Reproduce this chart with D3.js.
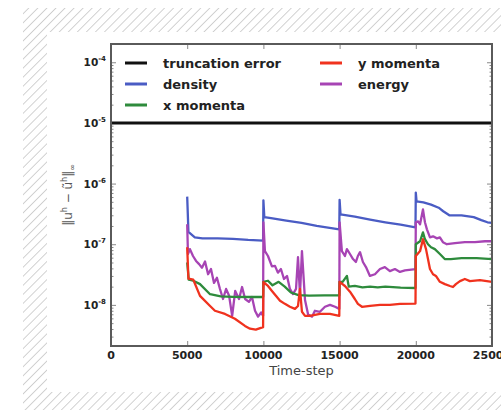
<!DOCTYPE html>
<html>
<head>
<meta charset="utf-8">
<script src="https://cdn.jsdelivr.net/npm/d3@7"></script>
<style>
  body { margin: 0; background: #fff; }
  svg { display: block; }
</style>
</head>
<body>
<svg width="501" height="410"></svg>
<script>
// values: [time-step, error]
const truncation = [[0, 1e-5], [25000, 1e-5]];

const density = [
  [5000, 6.1e-7], [5080, 1.6e-7], [5500, 1.3e-7], [6000, 1.25e-7], [7000, 1.25e-7], [8000, 1.23e-7], [9000, 1.18e-7], [9980, 1.15e-7],
  [10000, 5.3e-7], [10060, 2.8e-7], [10500, 2.7e-7], [11500, 2.45e-7], [12500, 2.25e-7], [13500, 2.0e-7], [14980, 1.76e-7],
  [15000, 5.4e-7], [15060, 3.1e-7], [16000, 2.85e-7], [17000, 2.55e-7], [18000, 2.3e-7], [19000, 2.1e-7], [19980, 1.9e-7],
  [20000, 7.1e-7], [20050, 5.1e-7], [20500, 4.9e-7], [21000, 4.5e-7], [21500, 4.0e-7], [21800, 3.5e-7], [22200, 3.0e-7],
  [23000, 3.0e-7], [23800, 2.8e-7], [24300, 2.5e-7], [24700, 2.3e-7], [25000, 2.25e-7]
];

const xMomenta = [
  [5000, 5e-8], [5100, 2.6e-8], [5400, 2.5e-8], [5840, 2.2e-8], [6500, 1.5e-8], [7200, 1.38e-8], [8000, 1.36e-8], [9000, 1.35e-8], [9980, 1.35e-8],
  [10000, 2.4e-8], [10300, 2.5e-8], [10600, 2.1e-8], [11000, 2.4e-8], [11400, 2.0e-8], [11800, 1.6e-8], [12300, 1.45e-8], [13000, 1.42e-8], [14000, 1.43e-8], [14980, 1.43e-8],
  [15000, 2.4e-8], [15200, 2.4e-8], [15480, 3.0e-8], [15600, 2.0e-8], [16000, 2.05e-8], [16500, 1.95e-8], [17000, 2.0e-8], [17500, 1.95e-8], [18000, 2.0e-8], [19000, 1.92e-8], [19980, 1.9e-8],
  [20000, 1.0e-7], [20280, 1.12e-7], [20470, 1.57e-7], [20600, 1.21e-7], [20800, 1.0e-7], [21000, 8.9e-8], [21250, 8.3e-8], [21580, 6.9e-8],
  [21900, 5.7e-8], [22300, 5.7e-8], [23000, 5.9e-8], [24000, 5.9e-8], [25000, 5.7e-8]
];

const yMomenta = [
  [5000, 8.9e-8], [5080, 2.7e-8], [5400, 2.6e-8], [5840, 1.41e-8], [6500, 9.6e-9], [6820, 8.0e-9], [7480, 7.1e-9], [8130, 5.9e-9],
  [8790, 4.5e-9], [9120, 4.05e-9], [9500, 3.9e-9], [9980, 4.3e-9],
  [10000, 2.38e-8], [10300, 2.05e-8], [10560, 1.7e-8], [10820, 1.41e-8], [11090, 1.17e-8], [11410, 1.04e-8], [11740, 9.3e-9],
  [12070, 8.6e-9], [12270, 9.6e-9], [12400, 1.83e-8], [12530, 7.7e-9], [12730, 6.6e-9], [13050, 6.6e-9], [13710, 7.1e-9], [14370, 7.1e-9], [14980, 6.6e-9],
  [15000, 2.4e-8], [15350, 2.05e-8], [15680, 1.65e-8], [16000, 1.25e-8], [16200, 1.04e-8], [16470, 9.3e-9], [17000, 9.6e-9],
  [17650, 1.0e-8], [18300, 1.0e-8], [18960, 1.04e-8], [19980, 1.05e-8],
  [20000, 6.4e-8], [20280, 7.7e-8], [20470, 1.21e-7], [20670, 8.3e-8], [20800, 5.7e-8], [20930, 3.9e-8], [21130, 3.2e-8], [21320, 3.0e-8],
  [21580, 2.4e-8], [21910, 2.2e-8], [22240, 2.05e-8], [22440, 1.97e-8], [22630, 2.2e-8], [22900, 2.47e-8], [23220, 2.67e-8],
  [23550, 2.47e-8], [24210, 2.57e-8], [25000, 2.4e-8]
];

const energy = [
  [5000, 2.13e-7], [5050, 6.9e-8], [5180, 8.3e-8], [5380, 6.4e-8], [5580, 5.3e-8], [5780, 4.7e-8], [5970, 4.1e-8], [6170, 5.2e-8],
  [6370, 3.2e-8], [6560, 3.9e-8], [6760, 2.3e-8], [6950, 2.8e-8], [7150, 1.83e-8], [7350, 1.25e-8], [7550, 1.83e-8], [7750, 1.41e-8],
  [7950, 6.6e-9], [8150, 1.7e-8], [8400, 1.25e-8], [8600, 1.97e-8], [8800, 1.25e-8], [9050, 1.12e-8], [9250, 1.35e-8], [9450, 8.0e-9],
  [9650, 6.4e-9], [9850, 7.5e-9], [9980, 6.6e-9],
  [10000, 2.3e-7], [10100, 7.7e-8], [10300, 6.4e-8], [10560, 4.3e-8], [10760, 4.4e-8], [10950, 3.4e-8], [11150, 3.9e-8], [11350, 2.67e-8],
  [11550, 3.0e-8], [11740, 1.83e-8], [11940, 1.51e-8], [12140, 1.83e-8], [12270, 6.1e-8], [12400, 1.5e-8], [12530, 7.7e-8], [12730, 1.2e-8],
  [12930, 7.0e-9], [13190, 6.4e-9], [13380, 8.0e-9], [13710, 7.7e-9], [14040, 9.3e-9], [14370, 1.0e-8], [14700, 9.3e-9], [14980, 8.6e-9],
  [15000, 2.3e-7], [15150, 7.7e-8], [15350, 6.4e-8], [15480, 8.3e-8], [15680, 6.9e-8], [15880, 5.7e-8], [16070, 5.1e-8], [16200, 6.4e-8],
  [16340, 7.4e-8], [16530, 5.1e-8], [16730, 4.2e-8], [16990, 3.0e-8], [17320, 3.2e-8], [17650, 3.9e-8], [17970, 4.2e-8], [18300, 3.6e-8],
  [18630, 3.9e-8], [18960, 3.5e-8], [19290, 3.7e-8], [19980, 3.9e-8],
  [20000, 2.3e-7], [20150, 2.38e-7], [20280, 2.13e-7], [20470, 3.75e-7], [20600, 2.3e-7], [20730, 1.76e-7], [20930, 1.3e-7], [21130, 1.35e-7],
  [21390, 1.25e-7], [21580, 1.3e-7], [21780, 1.08e-7], [22040, 1.0e-7], [22570, 1.04e-7], [23220, 1.08e-7], [23880, 1.08e-7], [24540, 1.12e-7], [25000, 1.12e-7]
];

const seriesNames = ["truncation error", "density", "x momenta", "y momenta", "energy"];
const seriesColors = ["#111111", "#4a5cc4", "#2e8b3c", "#f0321e", "#a744b4"];
const seriesData = [truncation, density, xMomenta, yMomenta, energy];

const xTicks = [0, 5000, 10000, 15000, 20000, 25000];
const yTicks = [-4, -5, -6, -7, -8]; // exponents of the labelled decades

const svg = d3.select("svg");

// hatched frame behind everything
const defs = svg.append("defs");
const pat = defs.append("pattern")
  .attr("id", "hatch")
  .attr("patternUnits", "userSpaceOnUse")
  .attr("width", 6.4).attr("height", 6.4)
  .attr("patternTransform", "rotate(45)");
pat.append("line")
  .attr("x1", 0).attr("y1", 0).attr("x2", 0).attr("y2", 6.4)
  .attr("stroke", "#b4b4b4").attr("stroke-width", 1.2);

svg.append("rect").attr("x", 23).attr("y", 8).attr("width", 478).attr("height", 402).attr("fill", "url(#hatch)");
svg.append("rect").attr("x", 47).attr("y", 32).attr("width", 454).attr("height", 360).attr("fill", "#fff");

const plot = { left: 111, top: 44, right: 492, bottom: 346 };

const x = d3.scaleLinear().domain([0, 25000]).range([plot.left, plot.right]);
const y = d3.scaleLog().domain([2.1e-9, 2e-4]).range([plot.bottom, plot.top]);

const clip = defs.append("clipPath").attr("id", "plotclip");
clip.append("rect").attr("x", plot.left).attr("y", plot.top)
  .attr("width", plot.right - plot.left).attr("height", plot.bottom - plot.top);

// minor ticks for the log axis
const minor = [];
for (let e = -9; e <= -4; e++) {
  for (let m = 2; m <= 9; m++) {
    const v = m * Math.pow(10, e);
    if (v > 2.1e-9 && v < 2e-4) minor.push(v);
  }
}
const major = yTicks.map(e => Math.pow(10, e));

function tickStyle(g) {
  g.select(".domain").remove();
  g.selectAll("line").attr("stroke", "#888").attr("stroke-width", 1);
}

svg.append("g").attr("transform", `translate(${plot.left},0)`)
  .call(d3.axisLeft(y).tickValues(major).tickSize(-5).tickFormat(""))
  .call(tickStyle);
svg.append("g").attr("transform", `translate(${plot.left},0)`)
  .call(d3.axisLeft(y).tickValues(minor).tickSize(-2.5).tickFormat(""))
  .call(tickStyle);
svg.append("g").attr("transform", `translate(${plot.right},0)`)
  .call(d3.axisRight(y).tickValues(major).tickSize(-5).tickFormat(""))
  .call(tickStyle);
svg.append("g").attr("transform", `translate(${plot.right},0)`)
  .call(d3.axisRight(y).tickValues(minor).tickSize(-2.5).tickFormat(""))
  .call(tickStyle);
svg.append("g").attr("transform", `translate(0,${plot.bottom})`)
  .call(d3.axisBottom(x).tickValues(xTicks).tickSize(-5).tickFormat(""))
  .call(tickStyle);
svg.append("g").attr("transform", `translate(0,${plot.top})`)
  .call(d3.axisTop(x).tickValues(xTicks).tickSize(-5).tickFormat(""))
  .call(tickStyle);

// lines
const line = d3.line().x(d => x(d[0])).y(d => y(d[1]));
const lines = svg.append("g").attr("clip-path", "url(#plotclip)");
[1, 4, 2, 3, 0].forEach(i => {
  lines.append("path")
    .datum(seriesData[i])
    .attr("fill", "none")
    .attr("stroke", seriesColors[i])
    .attr("stroke-width", i === 0 ? 3 : 2.3)
    .attr("stroke-linejoin", "round")
    .attr("d", line);
});

// frame
svg.append("rect")
  .attr("x", plot.left).attr("y", plot.top)
  .attr("width", plot.right - plot.left).attr("height", plot.bottom - plot.top)
  .attr("fill", "none").attr("stroke", "#5a5a5a").attr("stroke-width", 2);

// tick labels
const labelFont = "'DejaVu Sans', sans-serif";
const yl = svg.append("g").attr("font-family", labelFont).attr("font-weight", "bold").attr("fill", "#222");
yTicks.forEach(e => {
  const t = yl.append("text")
    .attr("x", 106).attr("y", y(Math.pow(10, e)) + 4)
    .attr("text-anchor", "end").attr("font-size", 10.5);
  t.append("tspan").text("10");
  t.append("tspan").attr("dy", -5).attr("font-size", 7).text("-" + Math.abs(e));
});

svg.append("g").attr("font-family", labelFont).attr("font-weight", "bold").attr("fill", "#222")
  .selectAll("text").data(xTicks).join("text")
  .attr("x", d => x(d)).attr("y", 359)
  .attr("text-anchor", "middle").attr("font-size", 11)
  .text(d => d);

svg.append("text")
  .attr("x", (plot.left + plot.right) / 2).attr("y", 375)
  .attr("text-anchor", "middle")
  .attr("font-family", labelFont).attr("font-size", 13).attr("fill", "#444")
  .text("Time-step");

const ylab = svg.append("text")
  .attr("transform", `translate(72,${(plot.top + plot.bottom) / 2}) rotate(-90)`)
  .attr("text-anchor", "middle")
  .attr("font-family", labelFont).attr("font-size", 12).attr("fill", "#555");
ylab.append("tspan").text("‖u");
ylab.append("tspan").attr("dy", -5).attr("font-size", 8).text("h");
ylab.append("tspan").attr("dy", 5).text(" − ũ");
ylab.append("tspan").attr("dy", -5).attr("font-size", 8).text("h");
ylab.append("tspan").attr("dy", 5).text("‖");
ylab.append("tspan").attr("dy", 3).attr("font-size", 8).text("∞");

// legend
const legendPos = [[125, 63], [125, 84], [125, 105], [320, 63], [320, 84]];
const legend = svg.append("g").attr("font-family", labelFont).attr("font-weight", "bold");
seriesNames.forEach((name, i) => {
  const [lx, ly] = legendPos[i];
  legend.append("line")
    .attr("x1", lx).attr("x2", lx + 22).attr("y1", ly).attr("y2", ly)
    .attr("stroke", seriesColors[i]).attr("stroke-width", 3);
  legend.append("text")
    .attr("x", lx + 38).attr("y", ly + 4.5)
    .attr("font-size", 13).attr("fill", "#222")
    .text(name);
});
</script>
</body>
</html>
